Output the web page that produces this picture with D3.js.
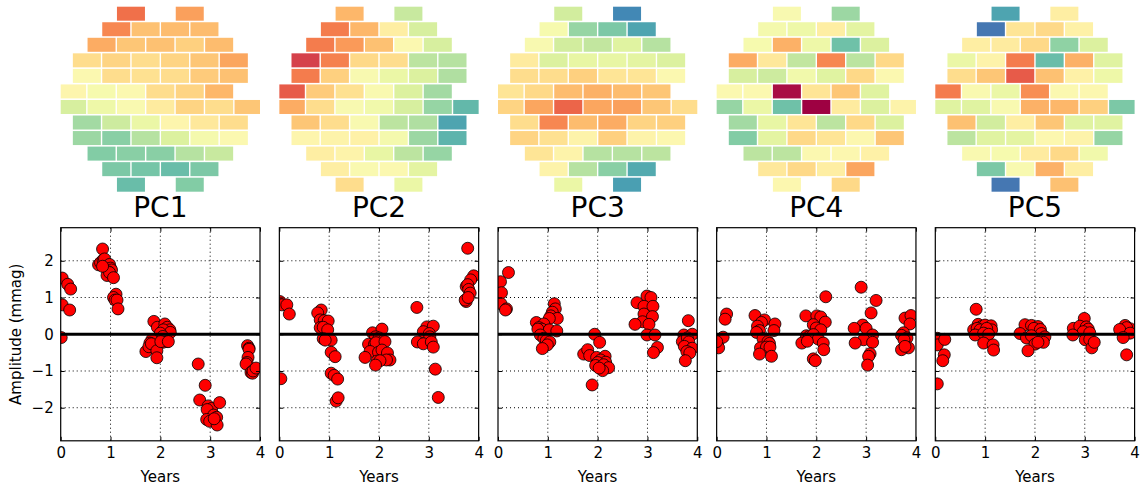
<!DOCTYPE html>
<html>
<head>
<meta charset="utf-8">
<script src="https://cdn.jsdelivr.net/npm/d3@7"></script>
<style>
  body { margin: 0; background: #fff; }
  text { font-family: "DejaVu Sans", sans-serif; }
</style>
</head>
<body>
<svg id="chart" width="1143" height="489"></svg>
<script>
//
// Data
//

var pcNames = ['PC1', 'PC2', 'PC3', 'PC4', 'PC5']
var xTicks = [0, 1, 2, 3, 4]
var yTicks = [-2, -1, 0, 1, 2]

// half-column slots of the detector cells, row by row (top to bottom)
var rowSlots = [
  [4, 8],
  [3, 5, 7, 9],
  [2, 4, 6, 8, 10],
  [1, 3, 5, 7, 9, 11],
  [1, 3, 5, 7, 9, 11],
  [0, 2, 4, 6, 8, 10],
  [0, 2, 4, 6, 8, 10, 12],
  [1, 3, 5, 7, 9, 11],
  [1, 3, 5, 7, 9, 11],
  [2, 4, 6, 8, 10],
  [3, 5, 7, 9],
  [4, 8]
]

// cell loadings (0..1 on the Spectral scale), same order as rowSlots
var pc1Map = [0.20, 0.28, 0.24, 0.34, 0.33, 0.33, 0.30, 0.35, 0.34, 0.37, 0.33,
  0.40, 0.38, 0.40, 0.38, 0.35, 0.29, 0.50, 0.40, 0.41, 0.40, 0.36, 0.34,
  0.48, 0.53, 0.50, 0.40, 0.38, 0.32, 0.62, 0.56, 0.51, 0.44, 0.38, 0.40, 0.35,
  0.71, 0.64, 0.57, 0.48, 0.43, 0.40, 0.72, 0.75, 0.68, 0.61, 0.54, 0.50,
  0.76, 0.75, 0.75, 0.68, 0.65, 0.77, 0.78, 0.80, 0.77, 0.80, 0.76]
var pc2Map = [0.32, 0.65, 0.22, 0.32, 0.45, 0.62, 0.22, 0.27, 0.34, 0.50, 0.62,
  0.11, 0.23, 0.39, 0.40, 0.67, 0.68, 0.22, 0.37, 0.52, 0.57, 0.61, 0.69,
  0.16, 0.36, 0.41, 0.51, 0.61, 0.71, 0.30, 0.40, 0.52, 0.55, 0.62, 0.73, 0.81,
  0.35, 0.40, 0.52, 0.67, 0.69, 0.85, 0.48, 0.47, 0.46, 0.54, 0.72, 0.82,
  0.45, 0.47, 0.58, 0.67, 0.73, 0.45, 0.51, 0.50, 0.59, 0.40, 0.57]
var pc3Map = [0.63, 0.90, 0.53, 0.73, 0.77, 0.85, 0.52, 0.63, 0.66, 0.60, 0.68,
  0.44, 0.61, 0.58, 0.58, 0.59, 0.61, 0.40, 0.40, 0.37, 0.42, 0.42, 0.50,
  0.42, 0.39, 0.33, 0.31, 0.33, 0.35, 0.38, 0.29, 0.18, 0.29, 0.28, 0.35, 0.40,
  0.40, 0.24, 0.33, 0.30, 0.38, 0.37, 0.38, 0.41, 0.47, 0.37, 0.47, 0.49,
  0.42, 0.47, 0.68, 0.68, 0.67, 0.47, 0.68, 0.75, 0.84, 0.57, 0.86]
var pc4Map = [0.52, 0.72, 0.54, 0.56, 0.45, 0.59, 0.53, 0.31, 0.56, 0.79, 0.61,
  0.30, 0.43, 0.66, 0.24, 0.67, 0.39, 0.62, 0.64, 0.55, 0.60, 0.39, 0.50,
  0.50, 0.50, 0.02, 0.42, 0.35, 0.60, 0.73, 0.57, 0.79, 0.00, 0.44, 0.61, 0.47,
  0.71, 0.58, 0.42, 0.67, 0.39, 0.61, 0.76, 0.59, 0.39, 0.42, 0.49, 0.35,
  0.67, 0.67, 0.50, 0.49, 0.46, 0.43, 0.39, 0.45, 0.29, 0.49, 0.39]
var pc5Map = [0.85, 0.45, 0.93, 0.42, 0.39, 0.46, 0.45, 0.44, 0.39, 0.74, 0.61,
  0.57, 0.47, 0.22, 0.80, 0.31, 0.60, 0.40, 0.35, 0.16, 0.34, 0.46, 0.56,
  0.22, 0.51, 0.57, 0.25, 0.50, 0.49, 0.60, 0.60, 0.52, 0.31, 0.32, 0.37, 0.77,
  0.34, 0.63, 0.45, 0.35, 0.60, 0.60, 0.67, 0.60, 0.59, 0.49, 0.47, 0.73,
  0.51, 0.53, 0.44, 0.39, 0.55, 0.77, 0.52, 0.31, 0.45, 0.93, 0.34]

// amplitude time series: [years, mmag]
var pc1Amp = [[0.03, 1.53], [0.14, 1.36], [0.20, 1.23], [0.03, 0.80], [0.18, 0.66], [0.01, -0.09],
  [0.84, 2.32], [0.76, 1.89], [0.80, 1.95], [0.85, 2.02], [0.88, 2.05], [0.92, 1.84], [0.98, 1.90],
  [1.00, 1.80], [1.02, 1.75], [0.95, 1.70], [0.93, 1.60], [0.98, 1.68], [1.06, 1.54], [0.84, 1.85],
  [1.11, 1.09], [1.06, 1.00], [1.09, 0.93], [1.13, 0.93], [1.15, 0.69],
  [1.87, 0.35], [1.94, 0.19], [2.09, 0.28], [2.14, 0.19], [2.19, 0.12], [2.06, 0.12], [2.20, 0.05],
  [2.00, 0.03], [2.05, -0.06], [2.14, -0.20], [1.83, -0.15], [1.79, -0.24], [2.05, -0.22],
  [1.71, -0.47], [1.77, -0.34], [1.82, -0.26], [1.93, -0.45], [1.93, -0.64], [2.01, -0.20], [2.16, -0.20],
  [2.76, -0.81], [2.90, -1.39], [2.79, -1.79], [2.96, -1.95], [3.03, -2.02], [2.94, -2.05], [3.19, -1.86],
  [3.07, -2.20], [3.13, -2.26], [2.93, -2.32], [2.99, -2.37], [3.14, -2.47], [3.08, -2.30],
  [3.75, -0.31], [3.78, -0.38], [3.78, -0.41], [3.76, -0.63], [3.74, -0.77], [3.72, -0.81],
  [3.82, -1.04], [3.85, -1.06], [3.88, -0.97], [3.86, -1.00], [3.92, -0.92]]
var pc2Amp = [[0.01, 0.89], [0.05, 0.80], [0.15, 0.80], [0.20, 0.55], [0.03, -1.21],
  [0.84, 0.66], [0.77, 0.58], [0.82, 0.39], [0.90, 0.37], [0.98, 0.36], [0.82, 0.18], [0.88, 0.19],
  [0.97, 0.12], [0.88, -0.12], [1.04, -0.16], [0.92, -0.16], [1.04, -0.49], [1.12, -0.61],
  [1.04, -1.06], [1.10, -1.12], [1.17, -1.22], [1.14, -1.82], [1.18, -1.73],
  [1.87, 0.04], [2.06, 0.14], [1.93, -0.07], [2.00, -0.10], [1.79, -0.27], [2.09, -0.18], [1.91, -0.27],
  [1.97, -0.35], [1.94, -0.23], [2.12, -0.20], [1.82, -0.47], [1.99, -0.49], [2.06, -0.43], [2.17, -0.51],
  [1.72, -0.63], [2.22, -0.70], [2.15, -0.70], [1.96, -0.73], [2.02, -0.72], [1.93, -0.84],
  [2.76, 0.73], [2.96, 0.20], [3.09, 0.22], [2.89, 0.07], [3.01, 0.02], [3.02, -0.07], [2.77, -0.21],
  [2.89, -0.26], [3.05, -0.21], [3.09, -0.35], [3.13, -0.95], [3.19, -1.72],
  [3.78, 2.34], [3.90, 1.59], [3.84, 1.48], [3.75, 1.30], [3.78, 1.35], [3.80, 1.22], [3.83, 1.12],
  [3.75, 0.89], [3.73, 0.93], [3.79, 1.00]]
var pc3Amp = [[0.05, 1.43], [0.21, 1.68], [0.07, 1.13], [0.06, 0.83], [0.17, 0.69], [0.15, 0.66],
  [1.13, 0.83], [1.15, 0.69], [1.09, 0.60], [1.06, 0.50], [1.19, 0.43], [1.03, 0.43], [0.77, 0.32],
  [0.92, 0.28], [0.82, 0.18], [0.88, 0.14], [0.80, 0.14], [1.03, 0.12], [1.18, 0.09], [0.85, -0.02],
  [0.92, -0.11], [0.97, -0.17], [1.04, -0.21], [0.99, -0.29], [0.89, -0.39],
  [1.94, 0.00], [2.04, -0.22], [1.72, -0.54], [1.80, -0.42], [1.84, -0.58], [1.98, -0.63], [2.15, -0.60],
  [2.06, -0.70], [2.16, -0.76], [2.00, -0.77], [1.96, -0.85], [2.12, -0.83], [2.22, -0.91], [2.10, -0.99],
  [2.03, -0.92], [1.89, -1.38],
  [2.79, 0.86], [2.99, 1.04], [3.07, 1.00], [2.93, 0.76], [3.11, 0.76], [2.93, 0.55], [3.10, 0.48],
  [2.90, 0.34], [2.75, 0.27], [3.03, 0.27], [2.99, -0.02], [3.15, -0.02], [3.20, -0.36], [3.12, -0.50],
  [3.82, 0.37], [3.73, -0.02], [3.90, 0.00], [3.70, -0.20], [3.80, -0.10], [3.83, -0.21], [3.74, -0.33],
  [3.90, -0.38], [3.79, -0.47], [3.85, -0.51], [3.76, -0.72]]
var pc4Amp = [[0.20, 0.55], [0.17, 0.41], [0.03, -0.20], [0.13, -0.08], [0.04, -0.37], [0.00, -0.20],
  [0.77, 0.51], [0.96, 0.39], [0.90, 0.32], [1.17, 0.28], [0.82, 0.22], [0.86, 0.10], [0.80, 0.05],
  [1.15, 0.10], [0.93, -0.12], [1.03, -0.20], [1.06, -0.25], [0.88, -0.37], [1.00, -0.35], [1.07, -0.35],
  [0.86, -0.54], [1.10, -0.60],
  [2.19, 1.02], [1.79, 0.50], [2.01, 0.50], [2.09, 0.47], [2.18, 0.33], [1.94, 0.26], [2.00, 0.17],
  [2.09, 0.12], [1.80, -0.04], [1.86, -0.06], [1.94, -0.01], [2.04, -0.13], [1.71, -0.24], [1.82, -0.19],
  [2.14, -0.24], [2.15, -0.42], [1.94, -0.67], [1.98, -0.72],
  [2.90, 1.28], [3.20, 0.92], [3.10, 0.58], [2.93, 0.25], [2.76, 0.16], [3.00, 0.16], [3.13, -0.02],
  [2.95, -0.15], [2.78, -0.24], [3.13, -0.22], [3.08, -0.53], [3.05, -0.60], [3.03, -0.84],
  [3.78, 0.44], [3.90, 0.51], [3.88, 0.28], [3.75, 0.04], [3.71, -0.03], [3.82, -0.10], [3.76, -0.15],
  [3.85, -0.37], [3.71, -0.42], [3.78, -0.33]]
var pc5Amp = [[0.04, -0.11], [0.04, -0.29], [0.19, -0.14], [0.18, -0.56], [0.15, -0.72], [0.04, -1.35],
  [0.82, 0.68], [0.86, 0.27], [0.93, 0.21], [1.00, 0.25], [0.77, 0.12], [0.84, 0.16], [1.12, 0.23],
  [1.13, 0.12], [0.90, 0.12], [1.03, 0.16], [0.80, -0.02], [0.97, 0.03], [1.07, 0.00], [0.97, -0.24],
  [1.16, -0.29], [1.17, -0.43],
  [1.80, 0.26], [1.93, 0.24], [2.06, 0.21], [1.98, 0.16], [2.11, 0.13], [2.13, 0.02], [1.70, 0.02],
  [1.83, -0.10], [1.93, -0.04], [2.20, -0.07], [2.17, -0.22], [2.00, -0.27], [2.06, -0.22], [1.86, -0.45],
  [2.99, 0.43], [2.77, 0.16], [2.90, 0.22], [3.03, 0.20], [3.07, 0.14], [2.97, 0.07], [3.10, 0.04],
  [2.76, -0.02], [3.01, -0.15], [3.10, -0.14], [3.14, -0.37], [3.19, -0.22],
  [3.81, 0.24], [3.91, 0.15], [3.84, 0.18], [3.70, 0.13], [3.91, 0.03], [3.77, -0.09], [3.84, -0.56]]

var maps = [pc1Map, pc2Map, pc3Map, pc4Map, pc5Map]
var amps = [pc1Amp, pc2Amp, pc3Amp, pc4Amp, pc5Amp]

//
// Layout
//

var axLeft0 = 60.7
var axStep = 218.65
var axW = 199.3
var axTop = 227.7
var axBottom = 440.8
var cellW = 28
var cellH = 14
var fontSize = 15

var svg = d3.select('#chart')
var color = d3.scaleSequential(d3.interpolateSpectral).domain([0, 1])

// flatten the cell layout once
var cells = []
rowSlots.forEach(function(slots, r) {
  slots.forEach(function(h) { cells.push({ row: r, slot: h }) })
})

//
// Top: detector heat map
//

function drawMap(i, left) {
  var hx = d3.scaleLinear().domain([0, 12]).range([left - 2.55 + cellW / 2, left + axW + 2.55 - cellW / 2])
  var hy = d3.scaleLinear().domain([0, 11]).range([6.7 + cellH / 2, 177.7 + cellH / 2])
  var clipId = 'mapclip' + i
  svg.append('clipPath').attr('id', clipId)
    .append('rect').attr('x', left).attr('y', 0).attr('width', axW).attr('height', 200)

  svg.append('g').attr('clip-path', 'url(#' + clipId + ')')
    .selectAll('rect')
    .data(cells)
    .enter().append('rect')
      .attr('x', function(d) { return hx(d.slot) - cellW / 2 })
      .attr('y', function(d) { return hy(d.row) - cellH / 2 })
      .attr('width', cellW)
      .attr('height', cellH)
      .attr('fill', function(d, k) { return color(maps[i][k]) })

  svg.append('text')
    .attr('x', left + axW / 2)
    .attr('y', 217.3)
    .attr('text-anchor', 'middle')
    .attr('font-size', 28)
    .text(pcNames[i])
}

//
// Bottom: amplitude vs time
//

function drawSeries(i, left) {
  var x = d3.scaleLinear().domain([0, 4]).range([left, left + axW])
  var y = d3.scaleLinear().domain([-2.9, 2.9]).range([axBottom, axTop])
  var g = svg.append('g')

  // dotted grid
  g.selectAll('.gx').data(xTicks.slice(1, -1)).enter().append('line')
    .attr('x1', x).attr('x2', x).attr('y1', axTop).attr('y2', axBottom)
    .attr('stroke', '#000').attr('stroke-width', 1).attr('stroke-dasharray', '1,3')
  g.selectAll('.gy').data(yTicks).enter().append('line')
    .attr('y1', y).attr('y2', y).attr('x1', left).attr('x2', left + axW)
    .attr('stroke', '#000').attr('stroke-width', 1).attr('stroke-dasharray', '1,3')

  var clipId = 'plotclip' + i
  svg.append('clipPath').attr('id', clipId)
    .append('rect').attr('x', left).attr('y', axTop).attr('width', axW).attr('height', axBottom - axTop)

  var plot = g.append('g').attr('clip-path', 'url(#' + clipId + ')')
  plot.selectAll('circle')
    .data(amps[i])
    .enter().append('circle')
      .attr('cx', function(d) { return x(d[0]) })
      .attr('cy', function(d) { return y(d[1]) })
      .attr('r', 6)
      .attr('fill', '#ff0000')
      .attr('stroke', '#000')
      .attr('stroke-width', 0.8)

  // zero line
  plot.append('line')
    .attr('x1', left).attr('x2', left + axW).attr('y1', y(0)).attr('y2', y(0))
    .attr('stroke', '#000').attr('stroke-width', 3)

  // axes (ticks point inward, classic style)
  var bottom = g.append('g').attr('transform', 'translate(0,' + axBottom + ')')
    .call(d3.axisBottom(x).tickValues(xTicks).tickSizeInner(-4).tickSizeOuter(0).tickPadding(7)
      .tickFormat(d3.format('d')))
  var topAx = g.append('g').attr('transform', 'translate(0,' + axTop + ')')
    .call(d3.axisTop(x).tickValues(xTicks).tickSizeInner(-4).tickSizeOuter(0).tickFormat(''))
  var leftAx = g.append('g').attr('transform', 'translate(' + left + ',0)')
    .call(d3.axisLeft(y).tickValues(yTicks).tickSizeInner(-4).tickSizeOuter(0).tickPadding(7)
      .tickFormat(i === 0 ? d3.format('d') : ''))
  var rightAx = g.append('g').attr('transform', 'translate(' + (left + axW) + ',0)')
    .call(d3.axisRight(y).tickValues(yTicks).tickSizeInner(-4).tickSizeOuter(0).tickFormat(''))

  ;[bottom, topAx, leftAx, rightAx].forEach(function(a) {
    a.selectAll('.domain').remove()
    a.selectAll('text').attr('font-size', fontSize).attr('font-family', 'DejaVu Sans').attr('fill', '#000')
  })

  g.append('rect')
    .attr('x', left).attr('y', axTop).attr('width', axW).attr('height', axBottom - axTop)
    .attr('fill', 'none').attr('stroke', '#000').attr('stroke-width', 1.2)

  g.append('text')
    .attr('x', left + axW / 2)
    .attr('y', 482)
    .attr('text-anchor', 'middle')
    .attr('font-size', fontSize)
    .text('Years')
}

//
// Main
//

pcNames.forEach(function(name, i) {
  var left = axLeft0 + i * axStep
  drawMap(i, left)
  drawSeries(i, left)
})

svg.append('text')
  .attr('transform', 'translate(21,' + ((axTop + axBottom) / 2) + ') rotate(-90)')
  .attr('text-anchor', 'middle')
  .attr('font-size', fontSize)
  .text('Amplitude (mmag)')
</script>
</body>
</html>
